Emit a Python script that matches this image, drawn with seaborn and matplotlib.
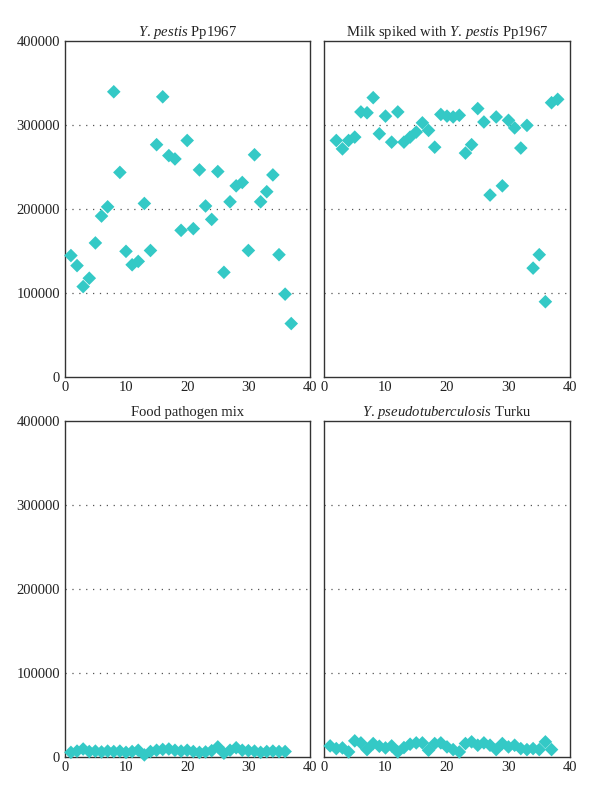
import numpy as np
import pandas as pd
import matplotlib
matplotlib.use("Agg")
import matplotlib.pyplot as plt
import seaborn as sns

# panel titles
titles = [
    r"$\mathit{Y.\,pestis}$ Pp1967",
    r"Milk spiked with $\mathit{Y.\,pestis}$ Pp1967",
    "Food pathogen mix",
    r"$\mathit{Y.\,pseudotuberculosis}$ Turku",
]

# Y. pestis Pp1967 (x = 1..37)
pestis_x = list(range(1, 38))
pestis_y = [145000, 133000, 108000, 118000, 160000, 192000, 203000, 340000, 244000, 150000,
            134000, 138000, 207000, 151000, 277000, 334000, 264000, 260000, 175000, 282000,
            177000, 247000, 204000, 188000, 245000, 125000, 209000, 228000, 232000, 151000,
            265000, 209000, 221000, 241000, 146000, 99000, 64000]

# milk spiked with Y. pestis (x = 2..38)
milk_x = list(range(2, 39))
milk_y = [282000, 272000, 282000, 286000, 316000, 315000, 333000, 290000, 311000, 280000,
          316000, 280000, 286000, 292000, 303000, 294000, 274000, 313000, 311000, 310000,
          312000, 267000, 277000, 320000, 304000, 217000, 310000, 228000, 306000, 297000,
          273000, 300000, 130000, 146000, 90000, 327000, 331000]

# food pathogen mix (x = 1..36)
food_x = list(range(1, 37))
food_y = [5500, 7000, 9500, 6500, 7000, 6000, 7000, 6500, 7000, 5500,
          6500, 8000, 2500, 6500, 8000, 9000, 9500, 8000, 7000, 8000,
          6500, 5500, 6000, 7500, 12000, 4500, 8000, 11000, 8000, 7500,
          7000, 5500, 6500, 7000, 6500, 6500]

# Y. pseudotuberculosis Turku (x = 1..37)
pseudo_x = list(range(1, 38))
pseudo_y = [13200, 10000, 10800, 6000, 19200, 16800, 8800, 16000, 12800, 10800,
            13200, 6000, 11200, 15200, 16800, 16800, 8000, 16000, 16800, 12000,
            8800, 6000, 16000, 18000, 14000, 16800, 14000, 8800, 16000, 12000,
            14000, 10000, 8800, 10000, 8800, 18000, 8800]

xs = [pestis_x, milk_x, food_x, pseudo_x]
ys = [pestis_y, milk_y, food_y, pseudo_y]

sns.set_style("white")
plt.rcParams["font.family"] = ["Liberation Serif", "DejaVu Serif"]
plt.rcParams["mathtext.fontset"] = "custom"
plt.rcParams["mathtext.rm"] = "Liberation Serif"
plt.rcParams["mathtext.it"] = "Liberation Serif:italic"

fig = plt.figure(figsize=(6, 7.96), dpi=100)

# [left, bottom, width, height] in figure fraction
positions = [
    [0.108, 0.526, 0.408, 0.422],
    [0.540, 0.526, 0.410, 0.422],
    [0.108, 0.049, 0.408, 0.422],
    [0.540, 0.049, 0.410, 0.422],
]

for i in range(4):
    ax = fig.add_axes(positions[i])
    df = pd.DataFrame({"x": xs[i], "y": ys[i]})
    sns.scatterplot(data=df, x="x", y="y", ax=ax, marker="D", s=48,
                    color="#34C9C6", edgecolor="none", zorder=3, clip_on=False)
    for g in [100000, 200000, 300000]:
        ax.axhline(g, color="#555555", linestyle=(0, (1, 4.5)), linewidth=0.9, zorder=1)
    ax.set_xlim(0, 40)
    ax.set_ylim(0, 400000)
    ax.set_xticks([0, 10, 20, 30, 40])
    ax.set_yticks([0, 100000, 200000, 300000, 400000])
    ax.tick_params(direction="in", length=3, width=0.8, labelsize=10.5, colors="#222222")
    ax.tick_params(axis="x", pad=3)
    if i % 2 == 0:
        ax.set_yticklabels(["0", "100000", "200000", "300000", "400000"])
    else:
        ax.set_yticklabels([])
    ax.set_xlabel("")
    ax.set_ylabel("")
    for sp in ax.spines.values():
        sp.set_color("#333333")
        sp.set_linewidth(1.0)
    ax.set_title(titles[i], fontsize=10.5, pad=4, color="#222222")

plt.savefig("out.png", dpi=100)
